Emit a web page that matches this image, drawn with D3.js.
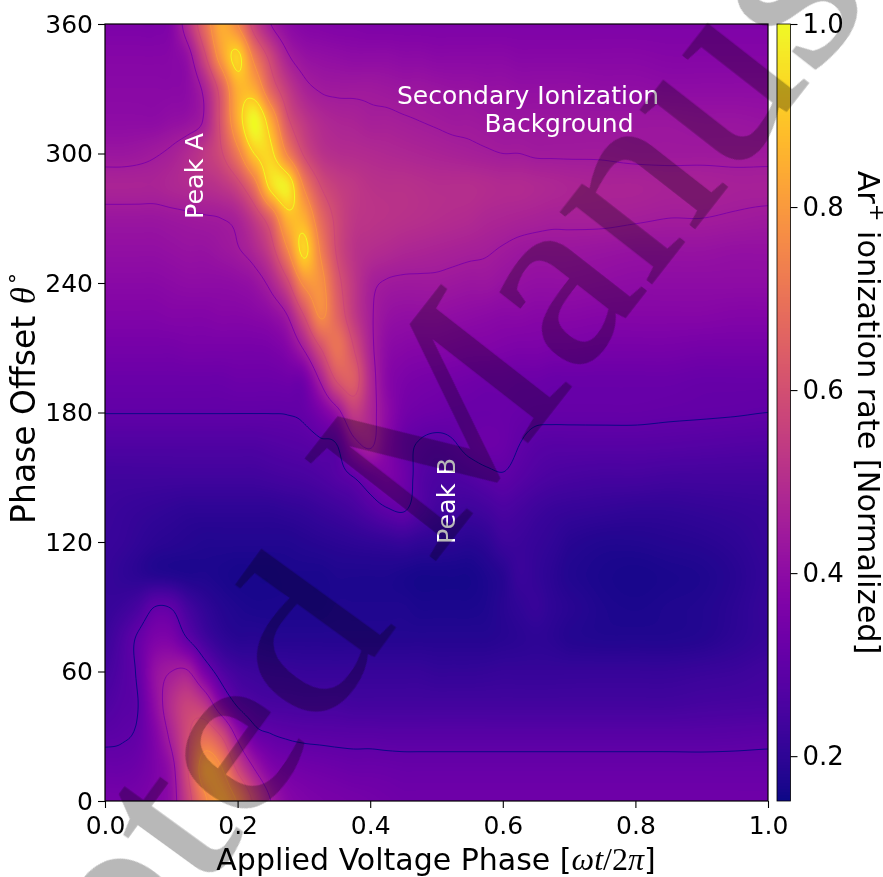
<!DOCTYPE html>
<html><head><meta charset="utf-8">
<script src="https://cdn.jsdelivr.net/npm/d3@7/dist/d3.min.js"></script>
<style>
html,body{margin:0;padding:0;background:#fff;}
#wrap{position:relative;width:883px;height:877px;overflow:hidden;}
canvas,svg{position:absolute;left:0;top:0;}
text{font-family:"DejaVu Sans",sans-serif;}
</style></head><body><div id="wrap"><canvas id="heat" width="883" height="877"></canvas><svg id="chart" width="883" height="877"></svg></div>
<script>
const phaseX=[0,.025,.05,.075,.1,.125,.15,.175,.2,.225,.25,.275,.3,.325,.35,.375,.4,.425,.45,.475,.5,.525,.55,.575,.6,.625,.65,.675,.7,.75,.8,.85,.9,.95,1];
const thetaRows=[360,345,330,315,300,285,270,255,240,225,210,195,180,165,150,135,120,105,90,75,60,45,30,15,0];
const ionizationRate=[
[.36,.36,.36,.36,.38,.50,.68,.84,.75,.56,.45,.40,.38,.375,.37,.37,.365,.365,.365,.365,.365,.365,.365,.365,.365,.365,.365,.365,.365,.365,.365,.365,.365,.365,.365],
[.38,.38,.38,.38,.385,.42,.58,.80,.92,.72,.57,.46,.42,.41,.405,.40,.40,.40,.395,.395,.39,.39,.39,.39,.39,.385,.385,.385,.385,.385,.385,.38,.38,.38,.38],
[.39,.39,.39,.39,.39,.40,.47,.64,.85,.84,.66,.54,.47,.445,.44,.44,.44,.435,.43,.43,.425,.42,.42,.415,.415,.41,.41,.41,.41,.405,.405,.40,.40,.40,.40],
[.40,.40,.40,.40,.41,.42,.46,.62,.84,1.0,.84,.62,.53,.49,.475,.47,.46,.46,.455,.45,.445,.44,.44,.435,.43,.43,.43,.43,.43,.43,.43,.43,.425,.425,.42],
[.43,.43,.435,.445,.46,.49,.53,.59,.72,.90,.92,.74,.59,.52,.50,.495,.49,.485,.48,.475,.47,.465,.46,.455,.45,.45,.445,.445,.445,.445,.44,.44,.44,.44,.44],
[.47,.47,.47,.47,.48,.49,.50,.52,.57,.70,.93,.97,.74,.60,.55,.53,.515,.51,.51,.505,.50,.50,.50,.495,.49,.49,.485,.48,.475,.47,.47,.465,.465,.46,.46],
[.43,.43,.43,.43,.435,.44,.445,.45,.47,.54,.66,.86,.85,.68,.58,.53,.52,.515,.51,.505,.50,.495,.49,.48,.475,.47,.465,.46,.46,.46,.455,.45,.45,.445,.44],
[.41,.41,.41,.41,.415,.42,.42,.43,.445,.48,.56,.74,.92,.74,.59,.52,.50,.49,.48,.475,.47,.465,.46,.455,.445,.435,.43,.43,.43,.425,.42,.42,.42,.415,.415],
[.39,.39,.39,.39,.395,.40,.40,.40,.405,.42,.47,.58,.77,.78,.63,.53,.465,.445,.44,.44,.44,.435,.43,.43,.42,.415,.41,.41,.41,.405,.40,.40,.40,.40,.40],
[.37,.37,.37,.37,.375,.375,.375,.38,.38,.385,.40,.45,.60,.76,.66,.54,.46,.42,.41,.41,.41,.405,.40,.395,.39,.39,.385,.385,.385,.38,.38,.38,.38,.375,.375],
[.345,.345,.345,.345,.345,.35,.35,.35,.35,.35,.355,.38,.46,.60,.70,.60,.47,.40,.385,.38,.38,.375,.37,.37,.365,.36,.36,.355,.355,.35,.35,.35,.345,.345,.345],
[.32,.32,.32,.32,.32,.32,.32,.32,.325,.325,.325,.33,.34,.46,.61,.64,.49,.39,.36,.35,.345,.34,.335,.33,.33,.325,.325,.32,.32,.32,.32,.32,.315,.315,.315],
[.301,.301,.301,.301,.301,.301,.301,.301,.301,.301,.301,.302,.31,.35,.42,.54,.48,.40,.345,.33,.325,.32,.32,.32,.32,.315,.31,.31,.31,.31,.31,.307,.305,.303,.30],
[.265,.265,.265,.265,.265,.265,.265,.265,.265,.265,.27,.275,.28,.29,.30,.42,.46,.38,.32,.295,.285,.295,.315,.325,.32,.30,.285,.28,.28,.28,.28,.278,.275,.272,.27],
[.235,.235,.235,.235,.235,.235,.235,.235,.235,.235,.24,.245,.25,.26,.275,.30,.34,.36,.33,.28,.26,.26,.27,.285,.295,.28,.265,.255,.25,.245,.245,.24,.24,.24,.24],
[.225,.22,.215,.21,.205,.20,.20,.20,.20,.20,.20,.205,.21,.22,.23,.245,.27,.295,.305,.27,.24,.235,.23,.24,.255,.245,.23,.22,.215,.21,.205,.205,.21,.215,.22],
[.22,.215,.205,.195,.19,.185,.18,.18,.18,.18,.18,.18,.185,.19,.195,.20,.205,.21,.215,.205,.20,.195,.19,.20,.225,.225,.215,.205,.19,.18,.18,.185,.19,.20,.215],
[.215,.205,.195,.185,.18,.175,.175,.17,.165,.165,.165,.17,.17,.17,.175,.175,.175,.175,.17,.165,.165,.165,.165,.175,.19,.22,.21,.195,.18,.17,.165,.17,.175,.19,.21],
[.215,.225,.25,.30,.295,.24,.205,.185,.175,.17,.17,.17,.17,.17,.175,.175,.175,.175,.175,.17,.17,.17,.17,.175,.19,.205,.215,.20,.19,.175,.17,.175,.18,.195,.215],
[.225,.26,.31,.36,.36,.30,.24,.205,.19,.19,.185,.185,.185,.185,.185,.185,.185,.185,.185,.185,.185,.185,.185,.185,.19,.195,.20,.195,.185,.18,.18,.18,.185,.20,.215],
[.245,.27,.31,.41,.45,.455,.35,.27,.235,.225,.22,.218,.215,.215,.215,.215,.215,.215,.215,.215,.21,.21,.21,.212,.215,.215,.215,.215,.215,.215,.215,.215,.22,.225,.235],
[.265,.28,.30,.40,.50,.56,.52,.38,.29,.26,.25,.248,.245,.245,.245,.24,.24,.24,.24,.24,.24,.24,.24,.24,.24,.24,.24,.24,.24,.24,.24,.24,.245,.248,.25],
[.29,.295,.31,.37,.47,.59,.68,.60,.43,.33,.305,.295,.29,.288,.286,.285,.285,.283,.283,.283,.283,.283,.283,.283,.283,.283,.283,.283,.283,.283,.283,.283,.283,.285,.288],
[.32,.32,.33,.36,.42,.60,.80,.76,.58,.45,.37,.345,.335,.33,.325,.32,.32,.318,.315,.315,.315,.315,.315,.315,.315,.315,.315,.315,.315,.315,.315,.315,.315,.315,.315],
[.345,.345,.35,.37,.41,.56,.73,.82,.74,.58,.45,.385,.365,.355,.35,.345,.34,.335,.33,.33,.33,.33,.33,.33,.33,.33,.33,.33,.33,.33,.33,.33,.33,.33,.33]
];
const contourLevels=[.3,.45,.6,.75,.9];
const xTicks=[0,.2,.4,.6,.8,1];
const yTicks=[0,60,120,180,240,300,360];
const barTicks=[.2,.4,.6,.8,1];
const rateExtent=[.151,1];

const L=105,R=768,T=24,B=801,BL=777,BR=790.5;
const x=d3.scaleLinear().domain([0,1]).range([L,R]);
const y=d3.scaleLinear().domain([0,360]).range([B,T]);
const color=d3.scaleSequential(d3.interpolatePlasma).domain(rateExtent).clamp(true);
const bar=d3.scaleLinear().domain(rateExtent).range([B,T]);
const colIdx=d3.scaleLinear().domain(phaseX).range(d3.range(phaseX.length)).clamp(true);
const rowIdx=d3.scaleLinear().domain(thetaRows).range(d3.range(thetaRows.length)).clamp(true);

function cr(a,b,c,d,t){return b+.5*t*(c-a+t*(2*a-5*b+4*c-d+t*(3*(b-c)+d-a)));}
function sample(px,py){
  const fx=colIdx(x.invert(px)),fy=rowIdx(y.invert(py));
  const i=Math.min(Math.floor(fx),phaseX.length-2),j=Math.min(Math.floor(fy),thetaRows.length-2);
  const tx=fx-i,ty=fy-j,col=[];
  for(let m=-1;m<=2;m++){
    const r=ionizationRate[Math.max(0,Math.min(thetaRows.length-1,j+m))];
    const g=k=>r[Math.max(0,Math.min(phaseX.length-1,k))];
    col.push(cr(g(i-1),g(i),g(i+1),g(i+2),tx));
  }
  return cr(col[0],col[1],col[2],col[3],ty);
}
// heat map
const ctx=document.getElementById('heat').getContext('2d');
ctx.fillStyle='#fff';ctx.fillRect(0,0,883,877);
for(let py=T;py<B;py++)for(let px=L;px<R;px++){ctx.fillStyle=color(sample(px+.5,py+.5));ctx.fillRect(px,py,1,1);}
// colour bar
for(let py=T;py<B;py++){ctx.fillStyle=color(bar.invert(py+.5));ctx.fillRect(BL,py,BR-BL,1);}

const svg=d3.select('#chart');
const defs=svg.append('defs');
defs.append('clipPath').attr('id','plot').append('rect').attr('x',L).attr('y',T).attr('width',R-L).attr('height',B-T);
// contours
const step=2,pad=2,nx=Math.ceil((R-L)/step)+2*pad,ny=Math.ceil((B-T)/step)+2*pad;
const lattice=new Float64Array(nx*ny);
const px=d3.scaleLinear().domain([pad,pad+(R-L)/step]).range([L,R]);
const py=d3.scaleLinear().domain([pad,pad+(B-T)/step]).range([T,B]);
for(let j=0;j<ny;j++)for(let i=0;i<nx;i++){
  lattice[j*nx+i]=sample(Math.max(L,Math.min(R,px(i+.5))),Math.max(T,Math.min(B,py(j+.5))));
}
const gen=d3.contours().size([nx,ny]).smooth(true).thresholds(contourLevels);
const path=d3.geoPath(d3.geoTransform({point(a,b){this.stream.point(px(a),py(b));}}));
const lineColor=d3.scaleSequential(d3.interpolatePlasma).domain([contourLevels[0],contourLevels[contourLevels.length-1]]);
svg.append('g').attr('clip-path','url(#plot)').selectAll('path').data(gen(Array.from(lattice))).join('path')
  .attr('d',path).attr('fill','none').attr('stroke',d=>lineColor(d.value)).attr('stroke-width',1);
// frame + axes
svg.append('rect').attr('x',L).attr('y',T).attr('width',R-L).attr('height',B-T).attr('fill','none').attr('stroke','#000').attr('stroke-width',1.2);
svg.append('rect').attr('x',BL).attr('y',T).attr('width',BR-BL).attr('height',B-T).attr('fill','none').attr('stroke','#000').attr('stroke-width',.8);
function style(g,size){g.select('.domain').remove();g.selectAll('line').attr('stroke','#000').attr('stroke-width',1.1);g.selectAll('text').attr('fill','#000').style('font-size',size+'px').style('font-family','"DejaVu Sans"');}
svg.append('g').attr('transform',`translate(0,${B})`).call(d3.axisBottom(x).tickValues(xTicks).tickFormat(d3.format('.1f')).tickSize(7).tickPadding(8)).call(style,25);
svg.append('g').attr('transform',`translate(${L},0)`).call(d3.axisLeft(y).tickValues(yTicks).tickSize(7).tickPadding(5)).call(style,25);
svg.append('g').attr('transform',`translate(${BR},0)`).call(d3.axisRight(bar).tickValues(barTicks).tickFormat(d3.format('.1f')).tickSize(7).tickPadding(5)).call(style,26);
// labels
const serif='"Liberation Serif",serif';
const xl=svg.append('text').attr('x',436).attr('y',870).attr('text-anchor','middle').style('font-size','30px');
xl.append('tspan').text('Applied Voltage Phase [');
xl.append('tspan').text('ωt').style('font-family',serif).style('font-style','italic').style('font-size','32px');
xl.append('tspan').text('/2').style('font-family',serif).style('font-size','32px');
xl.append('tspan').text('π').style('font-family',serif).style('font-style','italic').style('font-size','32px');
xl.append('tspan').text(']');
const yl=svg.append('text').attr('transform','translate(35,398.5) rotate(-90)').attr('text-anchor','middle').style('font-size','33px');
yl.append('tspan').text('Phase Offset ');
yl.append('tspan').text('θ').attr('dx',1).style('font-family',serif).style('font-style','italic').style('font-size','35px');
yl.append('tspan').text('°').attr('dy',-10).attr('dx',3).style('font-size','22px');
const cl=svg.append('text').attr('transform','translate(858,412.5) rotate(90)').attr('text-anchor','middle').style('font-size','30.3px');
cl.append('tspan').text('Ar');
cl.append('tspan').text('+').attr('dy',-12).style('font-size','21px');
cl.append('tspan').text(' ionization rate [Normalized]').attr('dy',12);
// annotations
const note=(t,xx,yy,rot,s)=>svg.append('text').attr('transform',`translate(${xx},${yy}) rotate(${rot})`).attr('text-anchor','middle').attr('fill','#fff').style('font-size',s+'px').text(t);
note('Peak A',203,176,-90,25.5);
note('Peak B',455,501,-90,25.5);
note('Secondary Ionization',528,104,0,25);
note('Background',559,132,0,25);
// watermark
const wmG=svg.append('g').attr('opacity',.28);
const wm=(t,a,tf)=>wmG.append('text').attr('transform',tf).attr('text-anchor',a).attr('fill','#000').attr('stroke','#000').attr('stroke-width',1.5).style('font-family',serif).style('font-size','252px').text(t);
wm('Accepted','end','translate(397,625) rotate(-54) scale(1.08,.88)');
wm('Manuscript','start','translate(431,566) rotate(-52) scale(1.05,1)');
</script></body></html>
